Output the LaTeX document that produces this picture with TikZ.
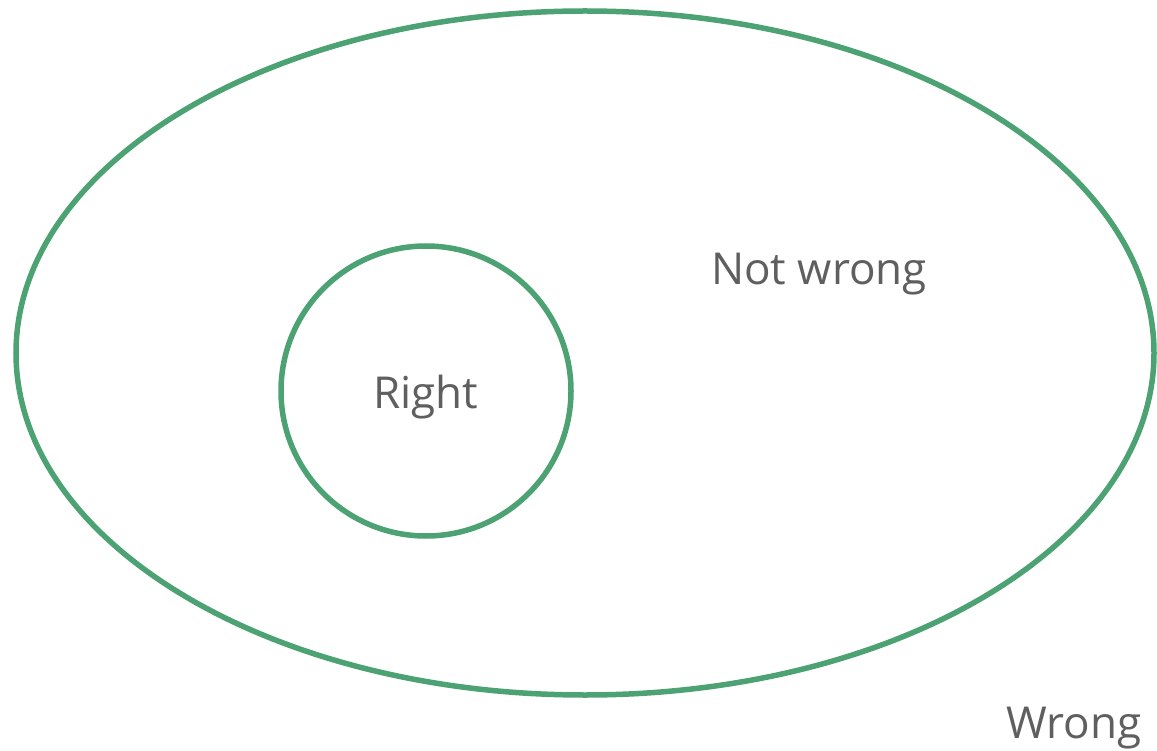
\documentclass[tikz,border=0pt]{standalone}
\usepackage{fontspec}
\setmainfont{Open Sans}
\usepackage{xcolor}
\definecolor{setgreen}{RGB}{76,162,115}
\definecolor{labelgray}{RGB}{95,95,95}

\begin{document}
\begin{tikzpicture}[x=1pt,y=-1pt,
    setline/.style={draw=setgreen, line width=5.5pt},
    lbl/.style={font=\fontsize{44}{52}\selectfont, text=labelgray, inner sep=0pt, anchor=base}
]
\useasboundingbox (0,0) rectangle (1157,751);
% outer set and inner set
\draw[setline] (585,353) ellipse (569 and 342);
\draw[setline] (426,391) circle (145);
% labels
\node[lbl] (notwrong) at (819,285) {Not wrong};
\node[lbl] (right) at (426,408) {Right};
\node[lbl] (wrong) at (1074,738) {Wrong};
\end{tikzpicture}
\end{document}
